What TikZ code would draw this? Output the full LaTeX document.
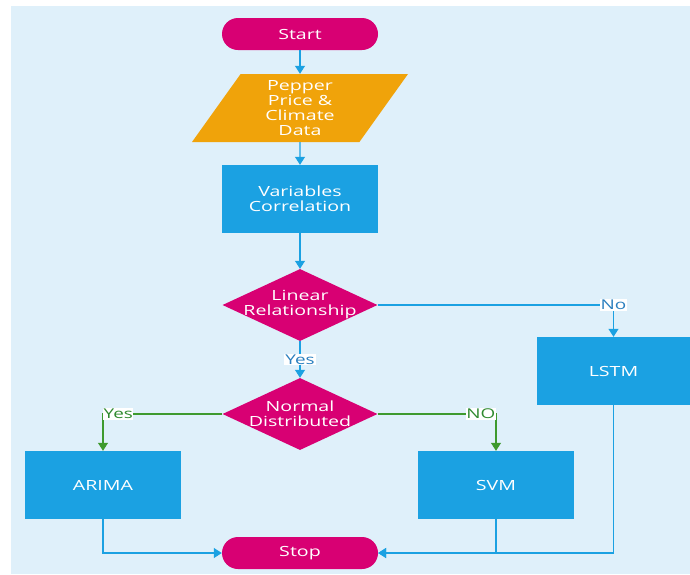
\documentclass[tikz,border=0pt]{standalone}
\usepackage{fontspec}
\setmainfont{Open Sans}[FakeStretch=1.4]
\usetikzlibrary{shapes.geometric,arrows.meta}
\definecolor{pmag}{HTML}{D80073}
\definecolor{pamber}{HTML}{F0A30A}
\definecolor{pcyan}{HTML}{1BA1E2}
\definecolor{pgreen}{HTML}{3E9A2E}
\definecolor{pgtext}{HTML}{2F8A2F}
\definecolor{pbtext}{HTML}{2A7FBF}
\definecolor{pback}{HTML}{DFF0FA}
\tikzset{
  txt/.style={text=white,font=\fontsize{14}{15}\selectfont,align=center},
  terminal/.style={txt,rectangle,rounded corners=16pt,fill=pmag,minimum width=156pt,minimum height=32pt},
  process/.style={txt,rectangle,fill=pcyan,minimum width=156pt,minimum height=68pt},
  inout/.style={txt,trapezium,trapezium left angle=48.6,trapezium right angle=131.4,
    trapezium stretches body=true,fill=pamber,minimum width=216pt,minimum height=68pt,inner sep=0pt},
  decision/.style={diamond,fill=pmag,minimum width=155pt,minimum height=72pt,inner sep=0pt,aspect=2.15},
  dtext/.style={txt},
  flow/.style={draw=pcyan,line width=1.1pt,-{Triangle[width=10pt,length=8pt]}},
  gflow/.style={draw=pgreen,line width=1.1pt,-{Triangle[width=10pt,length=8pt]}},
  tag/.style={fill=white,inner sep=1pt,font=\fontsize{13.5}{15}\selectfont},
}
\begin{document}
\begin{tikzpicture}[x=1pt,y=-1pt]
  \useasboundingbox (0,0) rectangle (690,574);
  \fill[pback] (11,6) rectangle (690,574);

  \node[terminal] (start) at (300,34) {Start};
  \node[inout] (data) at (300,108) {Pepper\\Price \&\\Climate\\Data};
  \node[process] (corr) at (300,199) {Variables\\Correlation};
  \node[decision,label={[dtext]center:Linear\\Relationship}] (lin) at (300,305) {};
  \node[decision,label={[dtext]center:Normal\\Distributed}] (norm) at (300,414) {};
  \node[process,minimum width=153pt] (lstm) at (613.5,371) {LSTM};
  \node[process] (arima) at (103,485) {ARIMA};
  \node[process] (svm) at (496,485) {SVM};
  \node[terminal] (stop) at (300,553) {Stop};

  \draw[flow] (start) -- (data);
  \draw[flow] (data) -- (corr);
  \draw[flow] (corr) -- (lin);
  \draw[flow] (lin) -- node[tag,text=pbtext] {Yes} (norm);
  \draw[flow] (lin.east) -- (lin.east -| lstm.north) coordinate (ncorner) -- (lstm.north);
  \node[tag,text=pbtext] (nolab) at (ncorner) {No};

  \draw[gflow] (norm.west) -- (norm.west -| arima.north) coordinate (ycorner) -- (arima.north);
  \node[tag,text=pgtext,anchor=west,inner xsep=0.5pt] (yeslab) at (ycorner) {Yes};
  \draw[gflow] (norm.east) -- (norm.east -| svm.north) coordinate (ocorner) -- (svm.north);
  \node[tag,text=pgtext,anchor=east,inner xsep=0.5pt] (nolab2) at (ocorner) {NO};

  \draw[flow] (arima.south) |- (stop.west);
  \draw[flow] (svm.south) |- (stop.east);
  \draw[flow] (lstm.south) |- (stop.east);
\end{tikzpicture}
\end{document}
